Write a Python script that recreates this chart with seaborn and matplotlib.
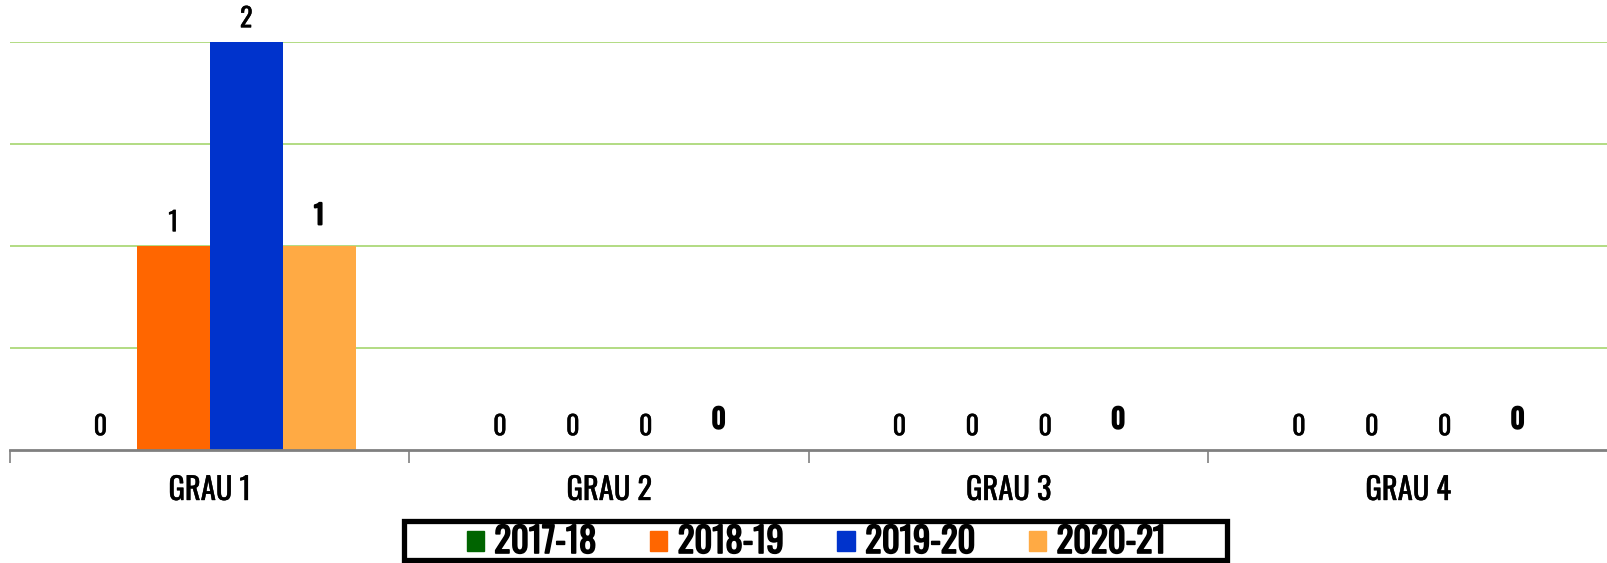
import matplotlib
matplotlib.use("Agg")
import matplotlib.pyplot as plt
import matplotlib.patheffects as pe
from matplotlib.patches import Rectangle
import seaborn as sns
import pandas as pd
from matplotlib.ticker import FixedLocator

categories = ["GRAU 1", "GRAU 2", "GRAU 3", "GRAU 4"]
series = ["2017-18", "2018-19", "2019-20", "2020-21"]
values = {
    "2017-18": [0, 0, 0, 0],
    "2018-19": [1, 0, 0, 0],
    "2019-20": [2, 0, 0, 0],
    "2020-21": [1, 0, 0, 0],
}
colors = ["#006400", "#FF6600", "#0033CC", "#FFAA44"]
y_ticks = [0.5, 1.0, 1.5, 2.0]

rows = []
for s in series:
    for c, v in zip(categories, values[s]):
        rows.append({"cat": c, "series": s, "val": v})
df = pd.DataFrame(rows)

sns.set_theme(style="white")
plt.rcParams["font.family"] = ["Oswald", "Fjalla One", "Fira Sans Extra Condensed", "DejaVu Sans"]
med_fx = [pe.withStroke(linewidth=0.3, foreground="black")]
bold_fx = [pe.withStroke(linewidth=1.6, foreground="black")]
leg_fx = [pe.withStroke(linewidth=1.2, foreground="black")]

W, H = 1608, 563
fig = plt.figure(figsize=(W / 100, H / 100), dpi=100)
ax = fig.add_axes([10 / W, 1 - 450 / H, 1 - 10 / W, (450 - 42) / H])

sns.barplot(data=df, x="cat", y="val", hue="series", palette=colors,
            width=0.73, gap=0, saturation=1, ax=ax, legend=True, errorbar=None,
            linewidth=0)

ax.set_ylim(0, 2)
ax.set_xlim(-0.5, 3.5)
ax.set_yticks(y_ticks)
ax.set_yticklabels([])
ax.tick_params(axis="y", length=0)
ax.grid(axis="y", color="#A6D56E", linewidth=1.2)
ax.set_axisbelow(True)
for s in ["left", "right", "top"]:
    ax.spines[s].set_visible(False)
ax.spines["bottom"].set_color("#808080")
ax.spines["bottom"].set_linewidth(2)
ax.set_xlabel("")
ax.set_ylabel("")
ax.tick_params(axis="x", which="major", length=0, pad=18, labelsize=22, labelcolor="black")
for t in ax.get_xticklabels():
    t.set_path_effects(med_fx)
ax.xaxis.set_minor_locator(FixedLocator([-0.5, 0.5, 1.5, 2.5]))
ax.tick_params(axis="x", which="minor", length=9, width=1.2, color="#808080", bottom=True)

for i, cont in enumerate(ax.containers):
    bold = (i == 3)
    labels = ax.bar_label(cont, fmt="%d", padding=12 if bold else 7, fontsize=19, color="black")
    for t in labels:
        t.set_clip_on(False)
        t.set_path_effects(bold_fx if bold else med_fx)

ax.get_legend().remove()
handles = [plt.Rectangle((0, 0), 1, 1, color=c) for c in colors]
leg = fig.legend(handles, series, loc="center", bbox_to_anchor=(816 / W, 1 - 542 / H),
                 ncol=4, frameon=False, prop={"size": 25},
                 handlelength=0.5, handleheight=0.5, handletextpad=0.3, columnspacing=1.55,
                 borderpad=0, borderaxespad=0, labelcolor="black")
for t in leg.get_texts():
    t.set_path_effects(leg_fx)
fig.patches.append(Rectangle((404 / W, 1 - 560 / H), (1227 - 404) / W, (560 - 521) / H,
                             transform=fig.transFigure, fill=False, edgecolor="black",
                             linewidth=3.8, zorder=5))

fig.savefig("out.png", dpi=100)
